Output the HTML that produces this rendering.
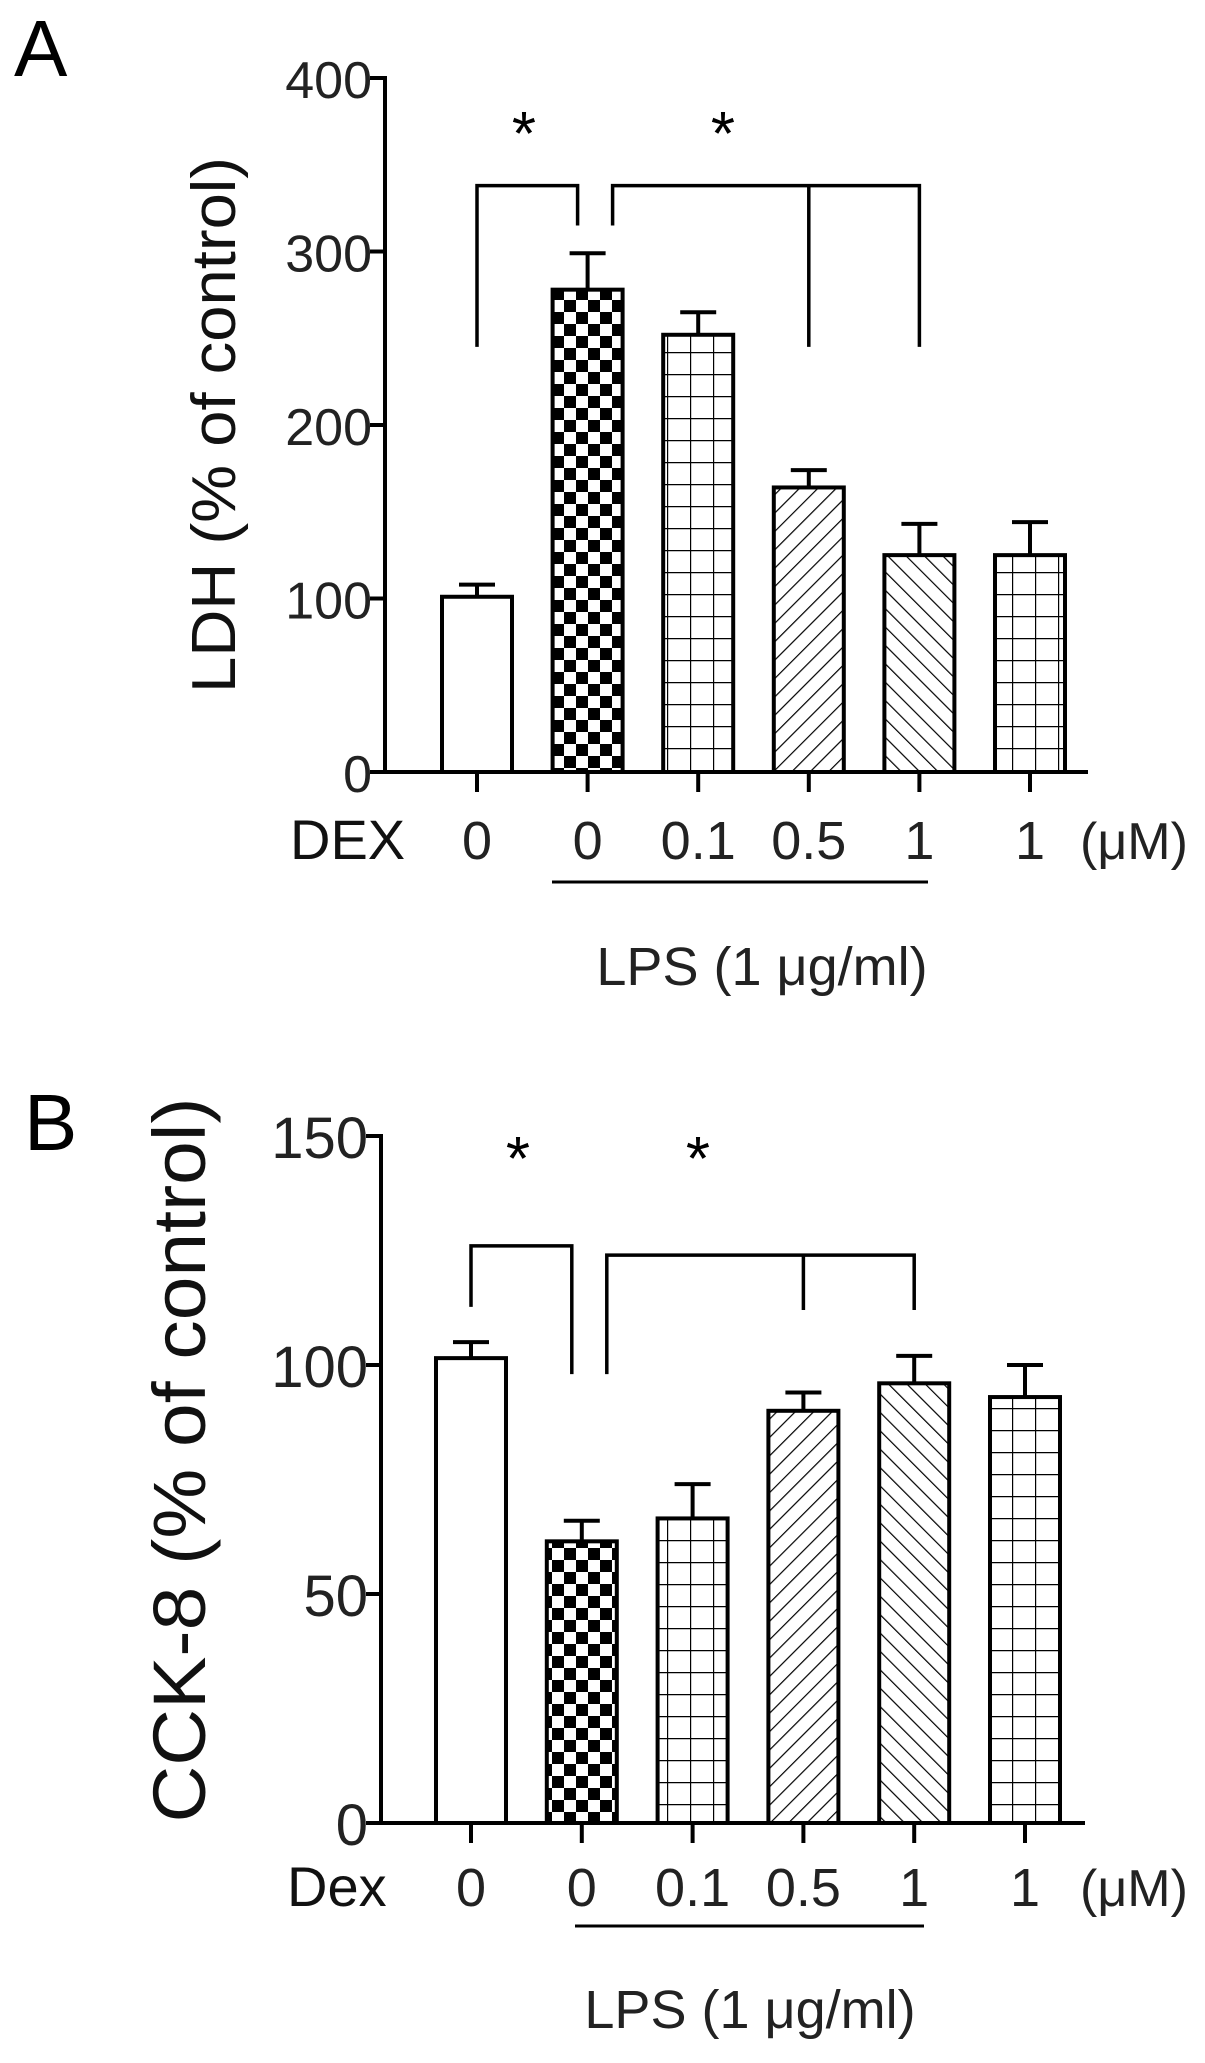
<!DOCTYPE html>
<html><head><meta charset="utf-8"><style>
html,body{margin:0;padding:0;background:#fff;}
svg{display:block;font-family:"Liberation Sans",sans-serif;}
</style></head><body>
<svg id="fig" width="1205" height="2063" viewBox="0 0 1205 2063" xmlns="http://www.w3.org/2000/svg">
<defs>
<pattern id="pChecker" patternUnits="userSpaceOnUse" width="24" height="24">
<rect width="24" height="24" fill="#fff"/><rect x="0" y="0" width="12" height="12" fill="#000"/><rect x="12" y="12" width="12" height="12" fill="#000"/></pattern>
<pattern id="pGrid" patternUnits="userSpaceOnUse" width="23" height="22">
<rect width="23" height="22" fill="#fff"/><path d="M0 0H23M0 0V22" stroke="#000" stroke-width="2.4"/></pattern>
<pattern id="pFwd" patternUnits="userSpaceOnUse" width="13" height="13" patternTransform="rotate(45)">
<rect width="13" height="13" fill="#fff"/><path d="M0 0V13" stroke="#000" stroke-width="2.4"/></pattern>
<pattern id="pBack" patternUnits="userSpaceOnUse" width="13" height="13" patternTransform="rotate(-45)">
<rect width="13" height="13" fill="#fff"/><path d="M0 0V13" stroke="#000" stroke-width="2.4"/></pattern>
</defs>
</svg>
<script>
const categories = ["0","0","0.1","0.5","1","1"];
const ldhValues = [101,278,252,164,125,125];
const ldhErrors = [7,21,13,10,18,19];
const ldhTicks = [0,100,200,300,400];
const cckValues = [101.5,61.5,66.5,90,96,93];
const cckErrors = [3.5,4.5,7.5,4,6,7];
const cckTicks = [0,50,100,150];
const fills = ["#fff","url(#pChecker)","url(#pGrid)","url(#pFwd)","url(#pBack)","url(#pGrid)"];

const NS="http://www.w3.org/2000/svg";
const svg=document.getElementById('fig');
function el(tag,attrs,parent,text){const e=document.createElementNS(NS,tag);for(const k in attrs)e.setAttribute(k,attrs[k]);if(text!==undefined)e.textContent=text;(parent||svg).appendChild(e);return e;}

function panel(cfg){
  const g=el('g',{});
  
  
  const yS=v=>cfg.y0-(v/cfg.max)*(cfg.y0-cfg.yTop);
  const xS=i=>cfg.x1+i*cfg.step;
  const lbl=el('text',{x:cfg.letterX,y:cfg.letterY,'font-size':80},g,cfg.letter);
  
  
  const ya=el('line',{x1:cfg.ax,y1:yS(cfg.max)-2,x2:cfg.ax,y2:cfg.y0+2,stroke:'#000','stroke-width':4},g);
  
  
  const xa=el('line',{x1:cfg.ax-2,y1:cfg.y0,x2:cfg.xEnd,y2:cfg.y0,stroke:'#000','stroke-width':4},g);
  
  
  cfg.ticks.forEach(t=>{
    const tl=el('line',{x1:cfg.ax-15,y1:yS(t),x2:cfg.ax,y2:yS(t),stroke:'#000','stroke-width':4},g);
    
    
    const tt=el('text',{x:cfg.ax-13,y:yS(t)+cfg.tickFs*0.38,'font-size':cfg.tickFs,'text-anchor':'end',fill:'#222'},g,String(t));
    
    
  });
  const yl=el('text',{x:0,y:0,'font-size':cfg.ylFs,'text-anchor':'middle',textLength:cfg.ylLen,lengthAdjust:'spacingAndGlyphs',fill:'#111',transform:`translate(${cfg.ylX},${cfg.ylY}) rotate(-90)`},g,cfg.yTitle);
  
  
  cfg.values.forEach((v,i)=>{
    const cx=xS(i), w=70;
    const top=yS(v), et=yS(v+cfg.errors[i]);
    const eb=el('line',{x1:cx,y1:et,x2:cx,y2:top,stroke:'#000','stroke-width':4},g);
    
    
    const ec=el('line',{x1:cx-18,y1:et,x2:cx+18,y2:et,stroke:'#000','stroke-width':4},g);
    
    
    const b=el('rect',{x:cx-w/2,y:top,width:w,height:cfg.y0-top,fill:fills[i],stroke:'#000','stroke-width':4},g);
    
    
    const xt=el('line',{x1:cx,y1:cfg.y0,x2:cx,y2:cfg.y0+20,stroke:'#000','stroke-width':4},g);
    
    
    const xl=el('text',{x:cx,y:cfg.catY,'font-size':54,'text-anchor':'middle',fill:'#222'},g,categories[i]);
    
    
  });
  const dx=el('text',{x:cfg.dexX,y:cfg.catY,'font-size':56,fill:'#111'},g,cfg.dex);
  
  
  const um=el('text',{x:cfg.umX,y:cfg.catY,'font-size':52,fill:'#222'},g,'(μM)');
  
  
  const ul=el('line',{x1:cfg.ulX1,y1:cfg.ulY,x2:cfg.ulX2,y2:cfg.ulY,stroke:'#000','stroke-width':3},g);
  
  
  const lp=el('text',{x:cfg.lpsX,y:cfg.lpsY,'font-size':54,'text-anchor':'middle',fill:'#222'},g,'LPS (1 μg/ml)');
  
  
  const B=cfg.br;
  const b1=el('path',{d:`M${xS(0)} ${yS(B.l1)}V${yS(B.top1)}H${xS(1)-10}V${yS(B.r1)}`,fill:'none',stroke:'#000','stroke-width':3.5},g);
  
  
  const b2=el('path',{d:`M${xS(1)+25} ${yS(B.r1)}V${yS(B.top2)}H${xS(4)}V${yS(B.legs)}M${xS(3)} ${yS(B.top2)}V${yS(B.legs)}`,fill:'none',stroke:'#000','stroke-width':3.5},g);
  
  
  B.stars.forEach(sx=>{
    const s=el('text',{x:sx,y:cfg.starY,'font-size':62,'text-anchor':'middle'},g,'*');
    
    
  });
}

panel({name:'panel-a-ldh',letter:'A',letterX:14,letterY:76,values:ldhValues,errors:ldhErrors,ticks:ldhTicks,max:400,
  y0:772,yTop:78,ax:385,xEnd:1088,x1:477,step:110.6,tickFs:52,ylFs:62,ylLen:536,ylX:235,ylY:425,yTitle:'LDH (% of control)',
  catY:859,dex:'DEX',dexX:290,umX:1080,ulX1:552,ulX2:928,ulY:882,lpsX:762,lpsY:985,starY:155,
  br:{l1:245,top1:338,r1:315,top2:338,legs:245,stars:[524,723]}});
panel({name:'panel-b-cck8',letter:'B',letterX:24,letterY:1150,values:cckValues,errors:cckErrors,ticks:cckTicks,max:150,
  y0:1823,yTop:1136,ax:381,xEnd:1085,x1:471,step:110.8,tickFs:58,ylFs:74,ylLen:725,ylX:205,ylY:1460,yTitle:'CCK-8 (% of control)',
  catY:1906,dex:'Dex',dexX:287,umX:1080,ulX1:575,ulX2:924,ulY:1926,lpsX:750,lpsY:2028,starY:1180,
  br:{l1:112.7,top1:126,r1:98,top2:124,legs:112,stars:[518,698]}});
</script>
</body></html>
